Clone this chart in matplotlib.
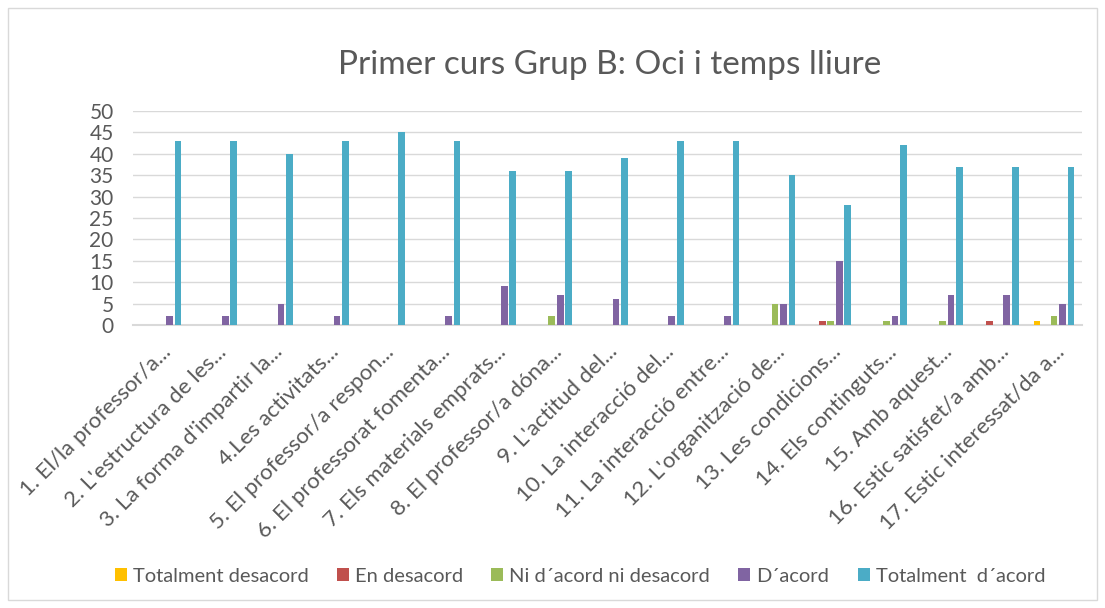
import matplotlib
matplotlib.use("Agg")
import matplotlib.pyplot as plt
import numpy as np
from matplotlib.patches import Rectangle

plt.rcParams['font.family'] = ['Lato', 'DejaVu Sans']

categories = [
    "1. El/la professor/a...",
    "2. L'estructura de les...",
    "3. La forma d'impartir la...",
    "4.Les activitats...",
    "5. El professor/a respon...",
    "6. El professorat fomenta...",
    "7. Els materials emprats...",
    "8. El professor/a dóna...",
    "9. L'actitud del...",
    "10. La interacció del...",
    "11. La interacció entre...",
    "12. L'organització de...",
    "13. Les condicions...",
    "14. Els continguts...",
    "15. Amb aquest...",
    "16. Estic satisfet/a amb...",
    "17. Estic interessat/da a...",
]
series_names = ["Totalment desacord", "En desacord", "Ni d´acord ni desacord",
                "D´acord", "Totalment  d´acord"]
totalment_desacord = [0, 0, 0, 0, 0, 0, 0, 0, 0, 0, 0, 0, 0, 0, 0, 0, 1]
en_desacord =        [0, 0, 0, 0, 0, 0, 0, 0, 0, 0, 0, 0, 1, 0, 0, 1, 0]
ni_acord =           [0, 0, 0, 0, 0, 0, 0, 2, 0, 0, 0, 5, 1, 1, 1, 0, 2]
d_acord =            [2, 2, 5, 2, 0, 2, 9, 7, 6, 2, 2, 5, 15, 2, 7, 7, 5]
totalment_acord =    [43, 43, 40, 43, 45, 43, 36, 36, 39, 43, 43, 35, 28, 42, 37, 37, 37]
series = [totalment_desacord, en_desacord, ni_acord, d_acord, totalment_acord]
colors = ["#FFC000", "#C0504D", "#9BBB59", "#8064A2", "#4BACC6"]

fig = plt.figure(figsize=(11.05, 6.08), dpi=100)
fig.patches.append(Rectangle((8/1105, 8/608), 1089/1105, 592/608, transform=fig.transFigure,
                             fill=False, edgecolor="#D9D9D9", linewidth=1))
ax = fig.add_axes([133/1105, 1 - 325/608, (1082-133)/1105, (325-111)/608])

x = np.arange(len(categories))
step = 0.152
width = 0.12
for i, (vals, c, name) in enumerate(zip(series, colors, series_names)):
    ax.bar(x + (i - 2) * step, vals, width=width, color=c, label=name, zorder=3)

ax.set_xlim(-0.5, len(categories) - 0.5)
ax.set_ylim(0, 50)
ax.set_yticks(range(0, 51, 5))
ax.yaxis.grid(True, color="#D9D9D9", linewidth=1, zorder=0)
for s in ["top", "right", "left"]:
    ax.spines[s].set_visible(False)
ax.spines["bottom"].set_color("#D9D9D9")
ax.spines["bottom"].set_linewidth(1.5)
ax.tick_params(axis="y", length=0, labelsize=15, labelcolor="#595959", pad=14)
ax.set_xticks(x)
ax.set_xticklabels(categories, rotation=45, ha="right", rotation_mode="anchor")
ax.tick_params(axis="x", length=0, labelsize=16, labelcolor="#595959", pad=12)

fig.text(0.552, 1 - 65/608, "Primer curs Grup B: Oci i temps lliure", ha="center", va="center",
         fontsize=24, color="#595959")

handles, labels = ax.get_legend_handles_labels()
fig.legend(handles, labels, loc="center", bbox_to_anchor=(580/1105, 1 - 576/608), ncol=5,
           frameon=False, fontsize=14.5, labelcolor="#595959", handlelength=0.6,
           handleheight=0.6, handletextpad=0.3, columnspacing=1.4)

fig.savefig("out.png", dpi=100)
